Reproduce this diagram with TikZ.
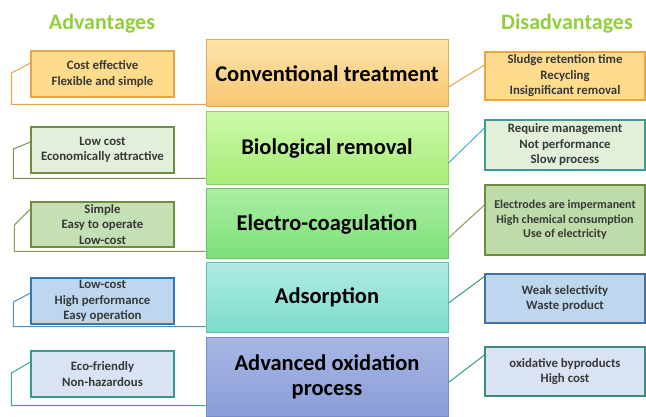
\documentclass[tikz,border=0pt]{standalone}
\usepackage{fontspec}
\setmainfont{Carlito}
\begin{document}
\begin{tikzpicture}[x=1pt,y=-1pt,
  center/.style={draw, line width=1pt, minimum width=242pt, align=center,
    font=\fontsize{22.5}{25}\selectfont\bfseries, text=black, inner sep=0pt},
  side/.style={draw, line width=1.2pt, align=center,
    font=\fontsize{12.8}{15.5}\selectfont\bfseries, text=black!78, inner sep=0pt},
  conn/.style={line width=1pt},
  head/.style={font=\fontsize{22}{24}\selectfont\bfseries, text=headgreen}]
\definecolor{headgreen}{HTML}{92CF3A}
\useasboundingbox (0,0) rectangle (646,417);
\fill[white] (0,0) rectangle (646,417);

\node[head] (hA) at (102,24) {Advantages};
\node[head] (hD) at (567,24) {Disadvantages};

% centre boxes
\node[center, minimum height=67pt, top color={rgb,255:red,253;green,228;blue,170}, bottom color={rgb,255:red,249;green,197;blue,110}, draw={rgb,255:red,233;green,170;blue,85}] (C1) at (327,73.5) {Conventional treatment};
\node[center, minimum height=73pt, top color={rgb,255:red,205;green,248;blue,170}, bottom color={rgb,255:red,166;green,236;blue,118}, draw={rgb,255:red,140;green,211;blue,95}] (C2) at (327,148.5) {Biological removal};
\node[center, minimum height=70pt, top color={rgb,255:red,170;green,238;blue,162}, bottom color={rgb,255:red,124;green,224;blue,120}, draw={rgb,255:red,112;green,196;blue,108}] (C3) at (327,224) {Electro-coagulation};
\node[center, minimum height=69pt, top color={rgb,255:red,176;green,234;blue,226}, bottom color={rgb,255:red,122;green,222;blue,206}, draw={rgb,255:red,95;green,196;blue,184}] (C4) at (327,297.5) {Adsorption};
\node[center, minimum height=79pt, top color={rgb,255:red,168;green,182;blue,228}, bottom color={rgb,255:red,138;green,158;blue,216}, draw={rgb,255:red,120;green,140;blue,200}] (C5) at (327,376.5) {Advanced oxidation\\process};

% left boxes
\node[side, minimum width=143pt, minimum height=46pt, fill={rgb,255:red,254;green,220;blue,140}, draw={rgb,255:red,232;green,165;blue,65}] (L1) at (102.5,74) {Cost effective\\Flexible and simple};
\node[side, minimum width=143pt, minimum height=46pt, fill={rgb,255:red,226;green,239;blue,218}, draw={rgb,255:red,112;green,140;blue,62}] (L2) at (102.5,150) {Low cost\\Economically attractive};
\node[side, minimum width=143pt, minimum height=45pt, fill={rgb,255:red,197;green,224;blue,180}, draw={rgb,255:red,110;green,140;blue,60}] (L3) at (102.5,224.5) {Simple\\Easy to operate\\Low-cost};
\node[side, minimum width=143pt, minimum height=46pt, fill={rgb,255:red,189;green,215;blue,238}, draw={rgb,255:red,50;green,120;blue,180}] (L4) at (102.5,301) {Low-cost\\High performance\\Easy operation};
\node[side, minimum width=143pt, minimum height=46pt, fill={rgb,255:red,218;green,227;blue,243}, draw={rgb,255:red,50;green,155;blue,140}] (L5) at (102.5,374) {Eco-friendly\\Non-hazardous};

% right boxes
\node[side, minimum width=160pt, minimum height=48pt, fill={rgb,255:red,254;green,220;blue,140}, draw={rgb,255:red,232;green,165;blue,65}] (R1) at (565,76) {Sludge retention time\\Recycling\\Insignificant removal};
\node[side, minimum width=160pt, minimum height=50pt, fill={rgb,255:red,226;green,240;blue,217}, draw={rgb,255:red,60;green,155;blue,155}] (R2) at (565,145) {Require management\\Not performance\\Slow process};
\node[side, minimum width=160pt, minimum height=70pt, fill={rgb,255:red,190;green,219;blue,170}, draw={rgb,255:red,110;green,140;blue,62}, font=\fontsize{12}{14.5}\selectfont\bfseries] (R3) at (565,220) {Electrodes are impermanent\\High chemical consumption\\Use of electricity};
\node[side, minimum width=160pt, minimum height=49pt, fill={rgb,255:red,189;green,215;blue,238}, draw={rgb,255:red,65;green,113;blue,156}] (R4) at (565,298.5) {Weak selectivity\\Waste product};
\node[side, minimum width=160pt, minimum height=49pt, fill={rgb,255:red,218;green,227;blue,243}, draw={rgb,255:red,60;green,140;blue,124}] (R5) at (565,371.5) {oxidative byproducts\\High cost};

% left connectors
\draw[conn, draw={rgb,255:red,230;green,164;blue,73}] ([yshift=11pt]L1.west) -- ++(-19,10) |- ([yshift=3pt]C1.south west);
\draw[conn, draw={rgb,255:red,127;green,143;blue,79}] ([yshift=8pt]L2.west) -- ++(-17,7) |- ([yshift=7pt]C2.south west);
\draw[conn, draw={rgb,255:red,138;green,154;blue,91}] ([yshift=15.5pt]L3.west) -- ++(-16,16) |- ([yshift=8pt]C3.south west);
\draw[conn, draw={rgb,255:red,74;green,144;blue,192}] ([yshift=8pt]L4.west) -- ++(-17,9) |- ([yshift=6pt]C4.south west);
\draw[conn, draw={rgb,255:red,58;green,165;blue,154}] ([yshift=12pt]L5.west) -- ++(-19,11) |- ([yshift=11pt]C5.south west);

% right connectors
\draw[conn, draw={rgb,255:red,230;green,164;blue,73}] ([yshift=-13.5pt]C1.east) -- ([yshift=11pt]R1.west);
\draw[conn, draw={rgb,255:red,75;green,172;blue,198}] ([yshift=-14.5pt]C2.east) -- ([yshift=17pt]R2.west);
\draw[conn, draw={rgb,255:red,138;green,154;blue,91}] ([yshift=-14pt]C3.east) -- ([yshift=15pt]R3.west);
\draw[conn, draw={rgb,255:red,58;green,154;blue,138}] ([yshift=-5.5pt]C4.east) -- ([yshift=22pt]R4.west);
\draw[conn, draw={rgb,255:red,58;green,154;blue,138}] ([yshift=-6pt]C5.east) -- ([yshift=16.5pt]R5.west);
\end{tikzpicture}
\end{document}
